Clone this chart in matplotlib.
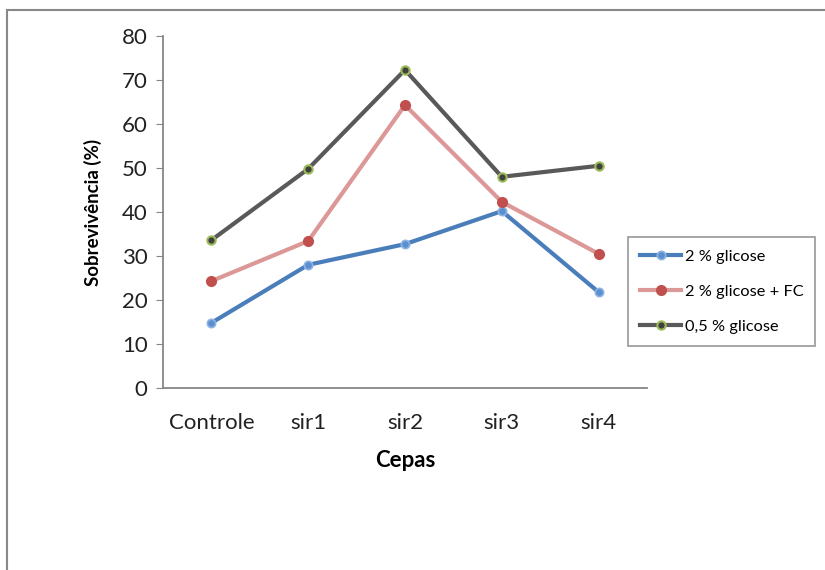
import matplotlib.pyplot as plt
from matplotlib.patches import Rectangle

plt.rcParams['font.family'] = ['Lato', 'DejaVu Sans']

cepas = ['Controle', 'sir1', 'sir2', 'sir3', 'sir4']
glicose_2 = [14.8, 28.0, 32.7, 40.2, 21.8]
glicose_2_fc = [24.3, 33.4, 64.3, 42.3, 30.5]
glicose_05 = [33.6, 49.8, 72.3, 48.0, 50.5]

fig = plt.figure(figsize=(8.25, 5.7), dpi=100)
# moldura do gráfico (cortada na direita e embaixo)
fig.patches.append(Rectangle((7 / 825, -0.1), 1.2, 1 - 10 / 570 + 0.1,
                             transform=fig.transFigure, fill=False,
                             edgecolor='#888888', linewidth=1.5))

ax = fig.add_axes([163 / 825, 1 - 388 / 570, 484 / 825, 352 / 570])
x = range(len(cepas))

ax.plot(x, glicose_2, color='#4a7ebb', linewidth=3, marker='o', markersize=6,
        markerfacecolor='#5b8fd0', markeredgecolor='#8fb4e3', markeredgewidth=1.2,
        label='2 % glicose')
ax.plot(x, glicose_2_fc, color='#dc9896', linewidth=3, marker='o', markersize=7,
        markerfacecolor='#c0504d', markeredgecolor='#c0504d',
        label='2 % glicose + FC')
ax.plot(x, glicose_05, color='#595959', linewidth=3, marker='o', markersize=6,
        markerfacecolor='#404040', markeredgecolor='#9bbb59', markeredgewidth=1.5,
        label='0,5 % glicose')

ax.set_xlim(-0.5, len(cepas) - 0.5)
ax.set_ylim(0, 80)
ax.set_yticks(range(0, 81, 10))
ax.set_xticks(list(x))
ax.set_xticklabels(cepas)

for s in ['top', 'right']:
    ax.spines[s].set_visible(False)
for s in ['left', 'bottom']:
    ax.spines[s].set_color('#868686')
    ax.spines[s].set_linewidth(1.3)

ax.tick_params(axis='y', labelsize=16, length=5, color='#868686', pad=6, labelcolor='#222222')
ax.tick_params(axis='x', labelsize=16, length=0, pad=18, labelcolor='#222222')

ax.set_xlabel('Cepas', fontsize=16, fontweight='bold', labelpad=12)
ax.set_ylabel('Sobrevivência (%)', fontsize=13.5, fontweight='bold', labelpad=14)

leg = fig.legend(loc='upper left', bbox_to_anchor=(628 / 825, 1 - 237 / 570),
                 fontsize=11.8, frameon=True, fancybox=False, edgecolor='#888888',
                 handlelength=2.5, handletextpad=0.2, labelspacing=1.25,
                 borderpad=0.75, borderaxespad=0)
leg.get_frame().set_linewidth(1.3)

fig.savefig('out.png', dpi=100)
